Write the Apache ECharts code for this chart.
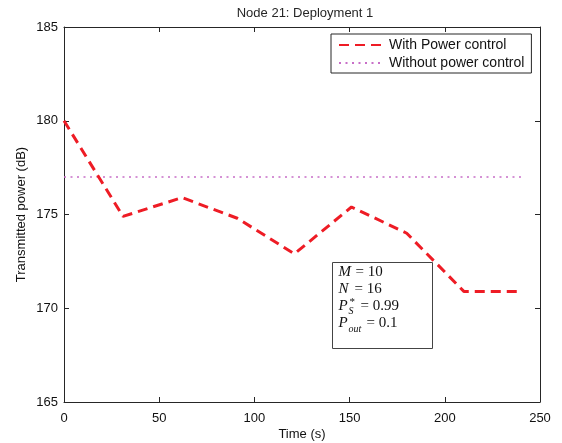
<!DOCTYPE html>
<html>
<head>
<meta charset="utf-8">
<script src="https://cdn.jsdelivr.net/npm/echarts@6/dist/echarts.min.js"></script>
<style>
  html, body { margin: 0; padding: 0; background: #fff; }
  #chart { width: 562px; height: 443px; }
</style>
</head>
<body>
<div id="chart"></div>
<script>
// Transmitted power of node 21 over time
const timeWith = [0, 31, 62, 91, 121, 151, 180, 210, 239];
const powerWith = [180, 174.9, 175.9, 174.8, 172.9, 175.4, 174.0, 170.9, 170.9];
const timeWithout = [0, 240];
const powerWithout = [177, 177];

const xTicks = [0, 50, 100, 150, 200, 250];
const yTicks = [165, 170, 175, 180, 185];

const seriesNames = ['With Power control', 'Without power control'];

const axisColor = '#262626';
const font = 'Liberation Sans, Arial, sans-serif';
const serif = 'Liberation Serif, DejaVu Serif, serif';

const chart = echarts.init(document.getElementById('chart'), null, { renderer: 'canvas' });

function tick() {
  return { show: true, inside: true, length: 5, lineStyle: { color: axisColor, width: 1 } };
}
function line() {
  return { show: true, onZero: false, lineStyle: { color: axisColor, width: 1 } };
}
function xAxisDef(extra) {
  return Object.assign({
    type: 'value', min: xTicks[0], max: xTicks[xTicks.length - 1], interval: 50,
    axisLine: line(), axisTick: tick(), splitLine: { show: false }
  }, extra);
}
function yAxisDef(extra) {
  return Object.assign({
    type: 'value', min: yTicks[0], max: yTicks[yTicks.length - 1], interval: 5,
    axisLine: line(), axisTick: tick(), splitLine: { show: false }
  }, extra);
}

// pieces of the parameter box
const sz = 15;
function it(x, y, text, size) {
  return { type: 'text', x: x, y: y,
    style: { text: text, fill: '#111', font: 'italic ' + (size || sz) + 'px ' + serif, textVerticalAlign: 'top' } };
}
function rm(x, y, text, size) {
  return { type: 'text', x: x, y: y,
    style: { text: text, fill: '#111', font: (size || sz) + 'px ' + serif, textVerticalAlign: 'top' } };
}

chart.setOption({
  animation: false,
  backgroundColor: '#fff',
  title: {
    text: 'Node 21: Deployment 1', left: 300, top: 2, textAlign: 'center',
    textStyle: { fontFamily: font, fontSize: 13, fontWeight: 'normal', color: axisColor }
  },
  grid: { left: 64, right: 22, top: 27, bottom: 41, outerBoundsMode: 'none', containLabel: false },
  legend: {
    data: seriesNames, orient: 'vertical', left: 331, top: 34,
    backgroundColor: '#fff', borderColor: axisColor, borderWidth: 1,
    padding: [4, 7, 3, 7], itemGap: 4, itemWidth: 45, itemHeight: 14,
    itemStyle: { opacity: 0 },
    textStyle: { fontFamily: font, fontSize: 14, color: '#111' }
  },
  xAxis: [
    xAxisDef({
      position: 'bottom', name: 'Time (s)', nameLocation: 'middle', nameGap: 26,
      nameMoveOverlap: false,
      nameTextStyle: { fontFamily: font, fontSize: 13, color: '#111' },
      axisLabel: { fontFamily: font, fontSize: 13, color: '#111', margin: 10 }
    }),
    xAxisDef({ position: 'top', axisLabel: { show: false } })
  ],
  yAxis: [
    yAxisDef({
      position: 'left', name: 'Transmitted power (dB)', nameLocation: 'middle', nameGap: 36,
      nameMoveOverlap: false,
      nameTextStyle: { fontFamily: font, fontSize: 13, color: '#111' },
      axisLabel: { fontFamily: font, fontSize: 13, color: '#111', margin: 6 }
    }),
    yAxisDef({ position: 'right', axisLabel: { show: false } })
  ],
  series: [
    {
      name: seriesNames[0], type: 'line', symbol: 'none', z: 3,
      data: timeWith.map((x, i) => [x, powerWith[i]]),
      lineStyle: { color: '#ee1c25', width: 3, type: [10, 6] },
      itemStyle: { color: '#ee1c25' }
    },
    {
      name: seriesNames[1], type: 'line', symbol: 'none', z: 2,
      data: timeWithout.map((x, i) => [x, powerWithout[i]]),
      lineStyle: { color: '#c86ec8', width: 1.5, type: [2, 4.5] },
      itemStyle: { color: '#c86ec8' }
    }
  ],
  graphic: [
    {
      type: 'group', left: 332, top: 262, z: 10,
      children: [
        { type: 'rect', shape: { x: 0, y: 0, width: 100, height: 86 },
          style: { fill: '#fff', stroke: '#444', lineWidth: 1 } },
        it(6, 2, 'M'), rm(23, 2, '= 10'),
        it(6, 19, 'N'), rm(22, 19, '= 16'),
        it(6, 36, 'P'), rm(17, 34, '*', 11), it(16, 44, 'S', 10), rm(28, 36, '= 0.99'),
        it(6, 53, 'P'), it(16, 62, 'out', 10), rm(34, 53, '= 0.1')
      ]
    }
  ]
});
</script>
</body>
</html>
